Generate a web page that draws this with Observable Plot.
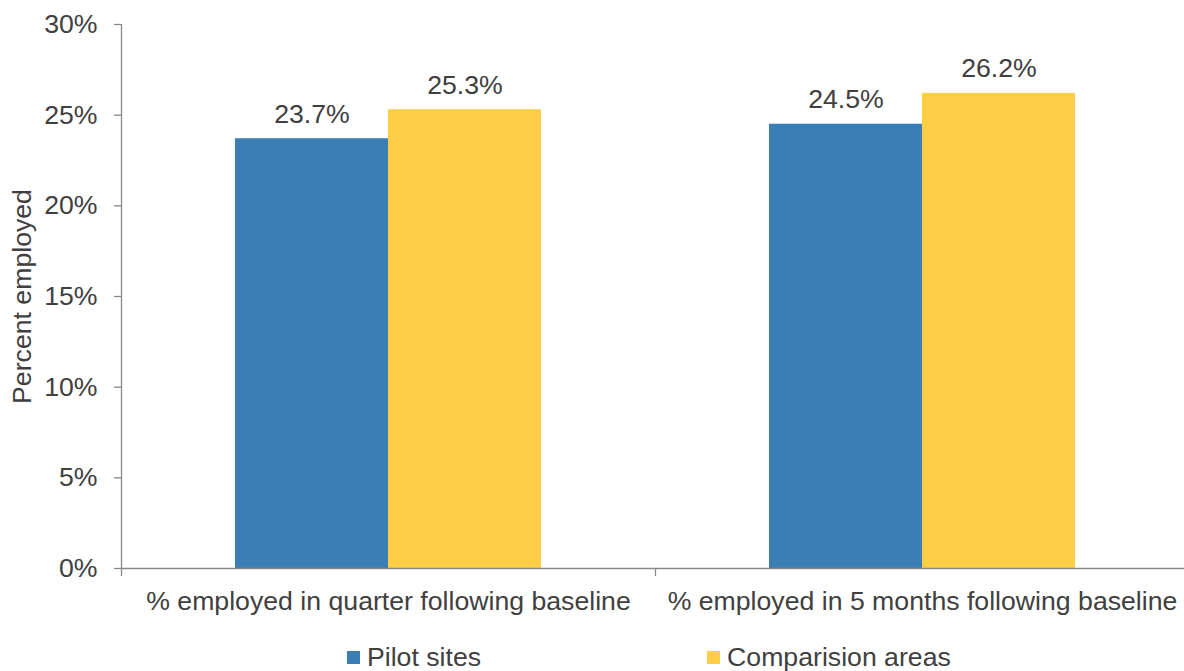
<!DOCTYPE html>
<html>
<head>
<meta charset="utf-8">
<script src="https://cdn.jsdelivr.net/npm/d3@7"></script>
<script src="https://cdn.jsdelivr.net/npm/@observablehq/plot@0.6"></script>
<style>
  html, body { margin: 0; padding: 0; background: #fff; }
  body { width: 1184px; height: 671px; overflow: hidden; font-family: "Liberation Sans", Arial, sans-serif; }
  #legend { display: flex; align-items: center; height: 31px; padding-top: 2px; padding-left: 347px; gap: 226px; font-size: 26.67px; color: #404040; }
  .item { display: flex; align-items: center; gap: 7px; }
  .sw { width: 13px; height: 13px; display: inline-block; }
</style>
</head>
<body>
<div id="chart"></div>
<div id="legend"></div>
<script>
const categories = ["% employed in quarter following baseline", "% employed in 5 months following baseline"];
const series = ["Pilot sites", "Comparision areas"];
const pilotValues = [23.7, 24.5];
const comparisonValues = [25.3, 26.2];
const yTicks = [0, 5, 10, 15, 20, 25, 30];
const colors = ["#3A7EB3", "#FFCE47"];

const barWidth = 0.2865; // fraction of a category slot
const rows = [];
categories.forEach((c, i) => {
  rows.push({category: c, index: i, series: series[0], value: pilotValues[i], k: 0});
  rows.push({category: c, index: i, series: series[1], value: comparisonValues[i], k: 1});
});
const x1 = d => d.index + 0.5 + (d.k - 1) * barWidth;
const x2 = d => d.index + 0.5 + d.k * barWidth;
const xc = d => (x1(d) + x2(d)) / 2;

const textColor = "#404040";
const axisColor = "#888888";
const fs = 26.67;

const chart = Plot.plot({
  width: 1184,
  height: 640,
  marginTop: 24,
  marginBottom: 72,
  marginLeft: 121,
  marginRight: -5,
  style: {fontFamily: '"Liberation Sans", Arial, sans-serif', background: "#fff"},
  x: {domain: [0, categories.length], axis: null},
  y: {domain: [0, 30], axis: null},
  color: {domain: series, range: colors},
  marks: [
    Plot.rectY(rows, {x1, x2, y: "value", fill: "series"}),
    Plot.ruleY([0], {stroke: axisColor, strokeWidth: 1.3}),
    Plot.ruleX([0], {stroke: axisColor, strokeWidth: 1.3}),
    Plot.axisY({ticks: yTicks, tickFormat: d => d + "%", tickSize: 7, tickPadding: 17, fontSize: fs, fill: textColor, stroke: axisColor, strokeWidth: 1.3, label: null}),
    Plot.axisX({ticks: d3.range(categories.length + 1), tickSize: 8, tickFormat: () => "", stroke: axisColor, strokeWidth: 1.3, label: null}),
    Plot.text(categories, {x: (d, i) => i + 0.5, y: () => 0, text: d => d, dy: 33, lineAnchor: "middle", fontSize: fs, fill: textColor}),
    Plot.text(rows, {x: xc, y: "value", text: d => d.value.toFixed(1) + "%", dy: -16, lineAnchor: "bottom", fontSize: fs, fill: textColor}),
    Plot.text(["Percent employed"], {frameAnchor: "left", rotate: -90, dx: -99, textAnchor: "middle", lineAnchor: "middle", fontSize: fs, fill: textColor})
  ]
});
document.getElementById("chart").appendChild(chart);

const legend = document.getElementById("legend");
series.forEach((s, i) => {
  const item = document.createElement("div");
  item.className = "item";
  const sw = document.createElement("span");
  sw.className = "sw";
  sw.style.background = colors[i];
  const t = document.createElement("span");
  t.textContent = s;
  item.appendChild(sw);
  item.appendChild(t);
  legend.appendChild(item);
});
</script>
</body>
</html>
